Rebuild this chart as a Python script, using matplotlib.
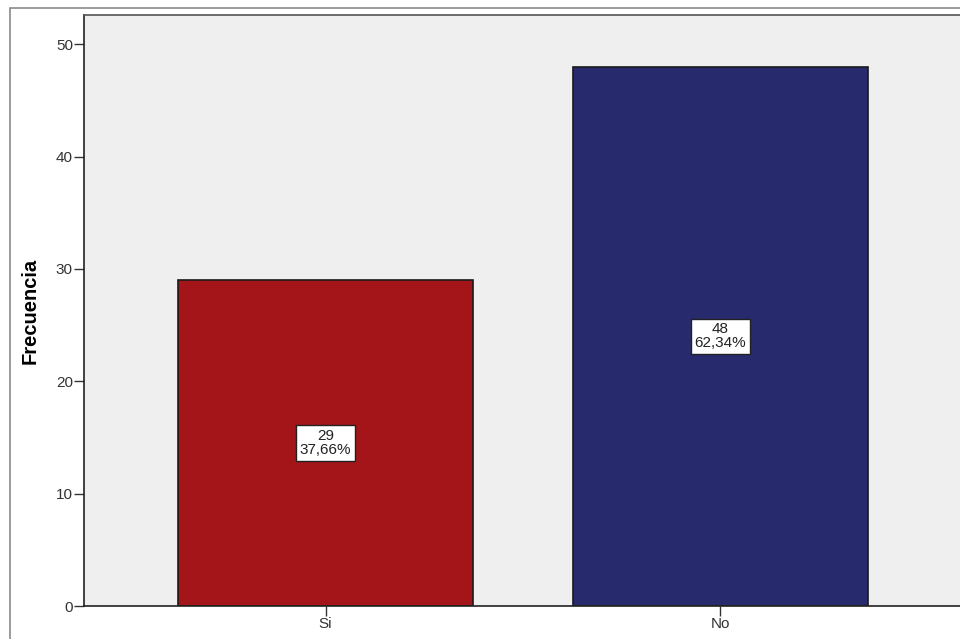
import matplotlib
matplotlib.use('Agg')
import matplotlib.pyplot as plt
from matplotlib.patches import Rectangle

categories = ['Si', 'No']
counts = [29, 48]
percents = ['37,66%', '62,34%']
colors = ['#A31519', '#282A6E']

plt.rcParams['font.family'] = ['Liberation Sans', 'DejaVu Sans']

W, H = 960, 639
fig = plt.figure(figsize=(W / 100, H / 100), dpi=100)

# outer frame of the chart
fig.patches.append(Rectangle((10 / W, -0.1), 1.2, (H - 8) / H + 0.1, transform=fig.transFigure,
                             fill=False, edgecolor='#8a8a8a', linewidth=1.2))

ax = fig.add_axes([84 / W, 33 / H, (962 - 84) / W, (606 - 15) / H])
ax.set_facecolor('#EFEFEF')

x = range(len(categories))
ax.bar(x, counts, width=0.748, color=colors, edgecolor='#1a1a1a', linewidth=1.2, zorder=2)

for i in x:
    ax.text(i, counts[i] / 2, str(counts[i]) + '\n' + percents[i], ha='center', va='center',
            fontsize=11, linespacing=1.0, color='#222222', zorder=3,
            bbox=dict(boxstyle='square,pad=0.25', facecolor='white', edgecolor='#222222', linewidth=1))

ax.set_xlim(-0.612, 1.612)
ax.set_ylim(0, 52.6)
ax.set_yticks([0, 10, 20, 30, 40, 50])
ax.set_xticks(list(x))
ax.set_xticklabels(categories)
ax.tick_params(axis='both', labelsize=11, labelcolor='#333333', length=7, width=1,
               color='#333333', pad=1)
ax.set_ylabel('Frecuencia', fontsize=14.5, fontweight='bold', labelpad=12)

for side in ['left', 'bottom', 'top']:
    ax.spines[side].set_color('#222222')
    ax.spines[side].set_linewidth(1.2)
ax.spines['top'].set_color('#555555')
ax.spines['right'].set_visible(False)

fig.savefig('out.png', dpi=100)
